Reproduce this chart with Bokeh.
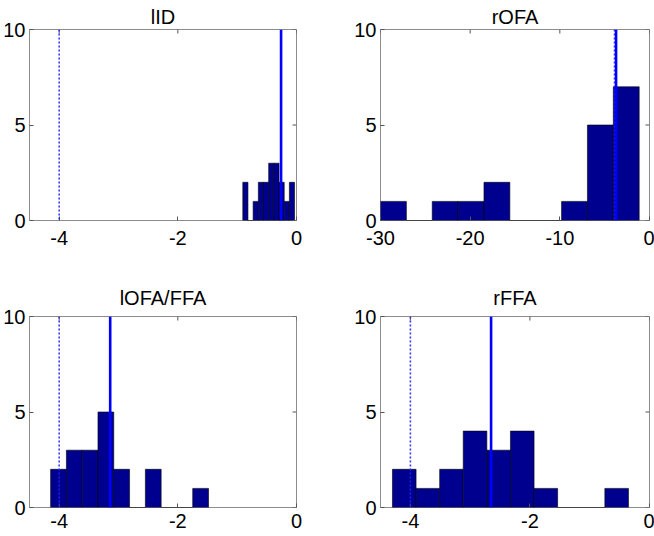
from bokeh.plotting import figure
from bokeh.layouts import column, row
from bokeh.models import Range1d, FixedTicker, Span, CustomJSTickFormatter
from bokeh.embed import file_html
from bokeh.resources import INLINE

# ---- data ----
titles = ["lID", "rOFA", "lOFA/FFA", "rFFA"]

iid_edges = [-0.905, -0.818, -0.731, -0.643, -0.556, -0.469, -0.382, -0.294, -0.207, -0.120, -0.033]
iid_counts = [2, 0, 1, 2, 2, 3, 3, 2, 1, 2]
iid_solid = -0.26
iid_dotted = -4.0

rofa_edges = [-30.0, -27.115, -24.23, -21.345, -18.46, -15.575, -12.69, -9.805, -6.92, -4.035, -1.15]
rofa_counts = [1, 0, 1, 1, 2, 0, 0, 1, 5, 7]
rofa_solid = -3.73
rofa_dotted = -3.9

lofa_edges = [-4.144, -3.878, -3.612, -3.346, -3.080, -2.814, -2.547, -2.281, -2.015, -1.749, -1.483]
lofa_counts = [2, 3, 3, 5, 2, 0, 2, 0, 0, 1]
lofa_solid = -3.14
lofa_dotted = -4.0

rffa_edges = [-4.300, -3.905, -3.510, -3.116, -2.721, -2.326, -1.931, -1.537, -1.142, -0.747, -0.352]
rffa_counts = [2, 1, 2, 4, 3, 4, 1, 0, 0, 1]
rffa_solid = -2.65
rffa_dotted = -4.0

xlims = [(-4.5, 0), (-30, 0), (-4.5, 0), (-4.5, 0)]
xticks = [[-4, -2, 0], [-30, -20, -10, 0], [-4, -2, 0], [-4, -2, 0]]
yticks = [0, 5, 10]
ylim = (0, 10)

FONT = "Liberation Sans"
BAR = "#00008f"
LINE = "#0000ff"
FRAME = "#8c8c8c"
TICK = "#555555"
FW, FH = 269, 191
TICKLEN = 4

hyphen_fmt = "return tick.toString();"


def panel(title, edges, counts, solid, dotted, xlim, xt,
          w, h, left, right, top, bottom, tstand, xstand):
    p = figure(width=w, height=h,
               x_range=Range1d(*xlim), y_range=Range1d(*ylim),
               toolbar_location=None, output_backend="svg", title=title,
               min_border_left=left, min_border_right=right,
               min_border_top=top, min_border_bottom=bottom)
    p.title.align = "center"
    p.title.text_font = FONT
    p.title.text_font_size = "20px"
    p.title.text_font_style = "normal"
    p.title.text_color = "black"
    p.title.standoff = tstand
    p.grid.visible = False
    p.outline_line_color = FRAME
    p.outline_line_width = 1
    p.background_fill_color = "white"

    p.quad(left=edges[:-1], right=edges[1:], top=counts, bottom=0,
           fill_color=BAR, line_color="black", line_width=0.6)

    p.add_layout(Span(location=dotted, dimension="height", line_color="#2222ff",
                      line_width=1.6, line_dash="2 2", line_alpha=0.9))
    p.add_layout(Span(location=solid, dimension="height", line_color=LINE,
                      line_width=2.6))

    for ax in (p.xaxis[0], p.yaxis[0]):
        ax.axis_line_color = None
        ax.major_tick_in = TICKLEN
        ax.major_tick_out = 0
        ax.major_tick_line_color = TICK
        ax.minor_tick_line_color = None
        ax.major_label_text_font = FONT
        ax.major_label_text_font_size = "20px"
        ax.major_label_text_color = "black"
        ax.formatter = CustomJSTickFormatter(code=hyphen_fmt)
    p.xaxis[0].ticker = FixedTicker(ticks=xt)
    p.yaxis[0].ticker = FixedTicker(ticks=yticks)
    p.xaxis[0].major_label_standoff = xstand
    p.yaxis[0].major_label_standoff = 4

    # inner tick marks on the top and right edges of the box (box on)
    ytop = ylim[1]
    dy = (ylim[1] - ylim[0]) * TICKLEN / FH
    p.segment(x0=xt, y0=[ytop] * len(xt), x1=xt, y1=[ytop - dy] * len(xt),
              line_color=TICK, line_width=1)
    xr = xlim[1]
    dx = (xlim[1] - xlim[0]) * TICKLEN / FW
    p.segment(x0=[xr] * len(yticks), y0=yticks, x1=[xr - dx] * len(yticks), y1=yticks,
              line_color=TICK, line_width=1)
    return p


p1 = panel(titles[0], iid_edges, iid_counts, iid_solid, iid_dotted, xlims[0], xticks[0],
           338, 265, 27, 42, 29, 45, 4, 10)
p2 = panel(titles[1], rofa_edges, rofa_counts, rofa_solid, rofa_dotted, xlims[1], xticks[1],
           316, 265, 42, 5, 29, 45, 4, 10)
p3 = panel(titles[2], lofa_edges, lofa_counts, lofa_solid, lofa_dotted, xlims[2], xticks[2],
           338, 271, 27, 42, 51, 29, 15, 6)
p4 = panel(titles[3], rffa_edges, rffa_counts, rffa_solid, rffa_dotted, xlims[3], xticks[3],
           316, 271, 42, 5, 51, 29, 15, 6)

layout = column(row(p1, p2), row(p3, p4))

open("out.html", "w").write(file_html(layout, INLINE))
